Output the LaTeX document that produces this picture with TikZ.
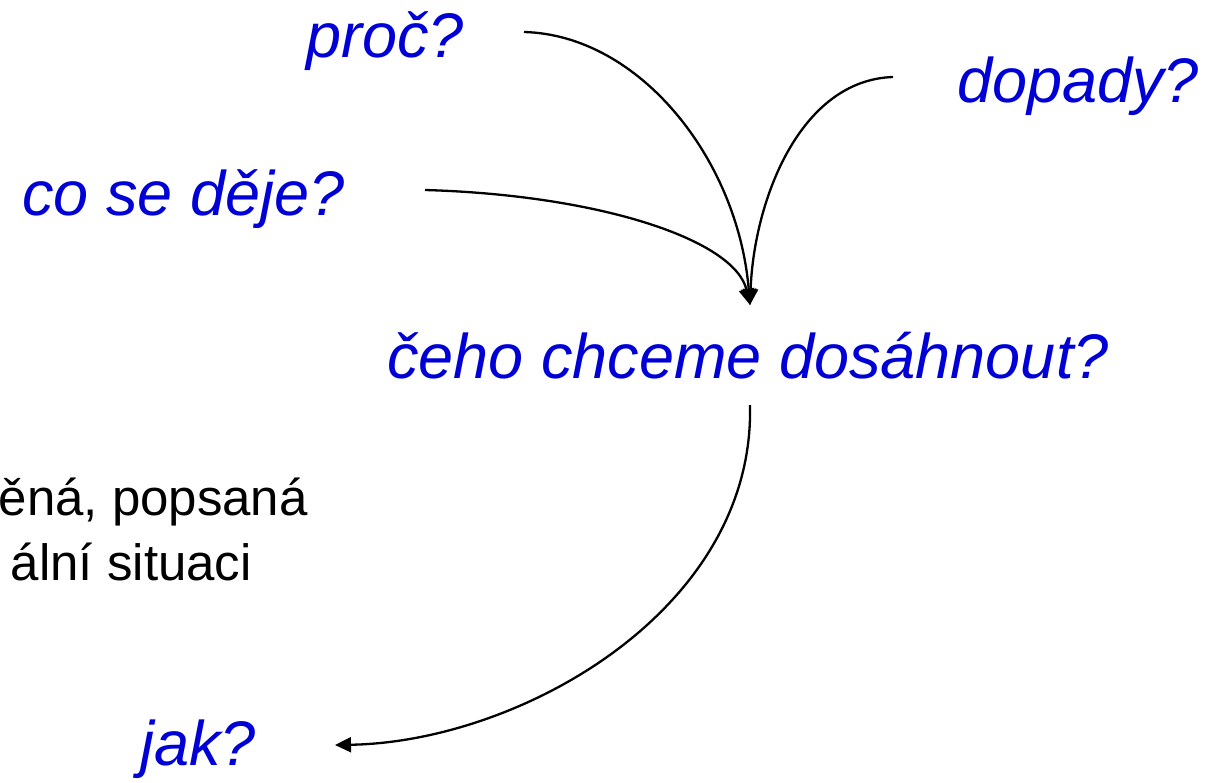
\documentclass[tikz,border=0pt]{standalone}
\usepackage{fontspec}
\setmainfont{Liberation Sans}
\usetikzlibrary{arrows.meta}
\definecolor{qblue}{RGB}{0,0,214}
\tikzset{
  q/.style={text=qblue, font=\fontsize{63}{75}\selectfont\itshape, inner sep=0pt},
  plain/.style={text=black, font=\fontsize{51}{62}\selectfont, inner sep=0pt},
  conn/.style={line width=2.3pt, -{Triangle[width=15pt,length=16pt]}},
}
\begin{document}
\begin{tikzpicture}[x=1pt,y=-1pt]
\useasboundingbox (0,0) rectangle (1225,782);
\node[q, anchor=base west] (proc) at (306,57) {proč?};
\node[q, anchor=base west] (dopady) at (957,102) {dopady?};
\node[q, anchor=base west] (deje) at (22,215) {co se děje?};
\node[q, anchor=base west] (ceho) at (387,378) {čeho chceme dosáhnout?};
\node[q, anchor=base west] (jak) at (140,765) {jak?};
\node[plain, anchor=base east] (l1) at (308,515) {ěná, popsaná};
\node[plain, anchor=base east] (l2) at (252,580) {ální situaci};
\coordinate (procE) at (524,32);
\coordinate (dopW) at (893,77);
\coordinate (dejeE) at (425,190);
\coordinate (tgt) at (750,305);
\coordinate (cehoS) at (750,405);
\coordinate (jakE) at (335,745);
\draw[conn] (procE) .. controls (640,35) and (738,160) .. (tgt);
\draw[conn] (dopW) .. controls (800,80) and (754,200) .. (tgt);
\draw[conn] (dejeE) .. controls (600,195) and (735,240) .. (tgt);
\draw[conn] (cehoS) .. controls (755,610) and (520,742) .. (jakE);
\end{tikzpicture}
\end{document}
